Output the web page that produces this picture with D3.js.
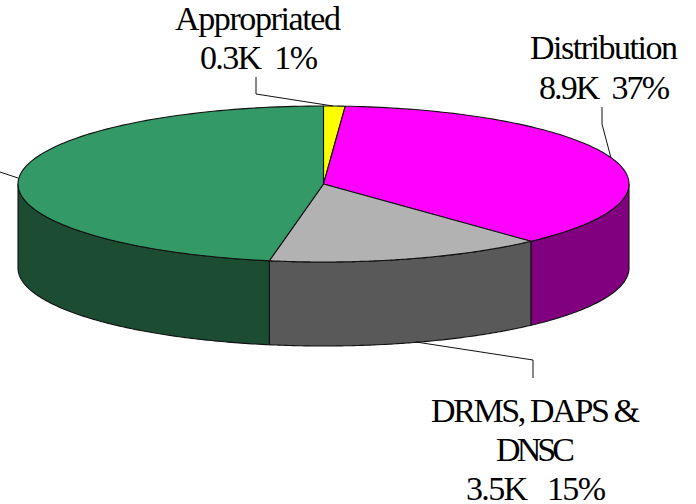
<!DOCTYPE html>
<html><head><meta charset="utf-8">
<script src="https://cdn.jsdelivr.net/npm/d3@7"></script>
<style>html,body{margin:0;background:#fff}svg{display:block}
text{font-family:"Liberation Serif",serif;font-size:34px;white-space:pre;fill:#000;text-anchor:middle}</style>
</head><body><svg id="c" width="696" height="504"></svg>
<script>
const categories=["Appropriated","Distribution","DRMS, DAPS & DNSC","Other"];
const values=[0.27,8.8,3.5,11.22];
const valueLabels=["0.3K  1%","8.9K  37%","3.5K   15%",""];
const topColors=["#ffff00","#ff00ff","#b2b2b2","#339966"];
const sideColors=["#808000","#800080","#595959","#1c4d33"];

const cx=323.5,cy=184,rx=305.5,ry=78,depth=84;
const svg=d3.select("#c");
const arcs=d3.pie().sort(null).value(d=>d)(values);
const pt=(a,dy=0)=>[cx+rx*Math.sin(a),cy-ry*Math.cos(a)+dy];
const samples=(a0,a1)=>d3.range(0,121).map(i=>a0+(a1-a0)*i/120);
const line=d3.line();

// walls
arcs.forEach((d,i)=>{
  const a0=Math.max(d.startAngle,Math.PI/2),a1=Math.min(d.endAngle,Math.PI*1.5);
  if(a1<=a0)return;
  const s=samples(a0,a1);
  const p=[...s.map(a=>pt(a)),...s.slice().reverse().map(a=>pt(a,depth))];
  svg.append("path").attr("d",line(p)+"Z").attr("fill",sideColors[i])
    .attr("stroke","#111").attr("stroke-width",1.1).attr("stroke-linejoin","round");
});
// top face
arcs.forEach((d,i)=>{
  const p=[[cx,cy],...samples(d.startAngle,d.endAngle).map(a=>pt(a))];
  svg.append("path").attr("d",line(p)+"Z").attr("fill",topColors[i])
    .attr("stroke","#111").attr("stroke-width",1.1).attr("stroke-linejoin","round");
});
// leader lines
const leaders=[
  [[256,77],[256,94],[333,106]],
  [[602,107],[602,124],[611,158]],
  [[533,378],[533,360],[416,342]],
  [[0,172],[18,178]]
];
leaders.forEach(l=>svg.append("path").attr("d",line(l)).attr("fill","none").attr("stroke","#111").attr("stroke-width",1));
// labels: text, centre x, baseline y, line width
const labelLines=[
  [categories[0],258,30,166],[valueLabels[0],259,69,118],
  [categories[1],604,59,148],[valueLabels[1],604.5,99,131],
  ["DRMS, DAPS &",535.5,422,209],["DNSC",535.5,461,79],[valueLabels[2],536,500,140]
];
labelLines.forEach(([t,x,y,w])=>svg.append("text").attr("x",x).attr("y",y)
  .attr("textLength",w).attr("lengthAdjust","spacing").text(t));
</script></body></html>
